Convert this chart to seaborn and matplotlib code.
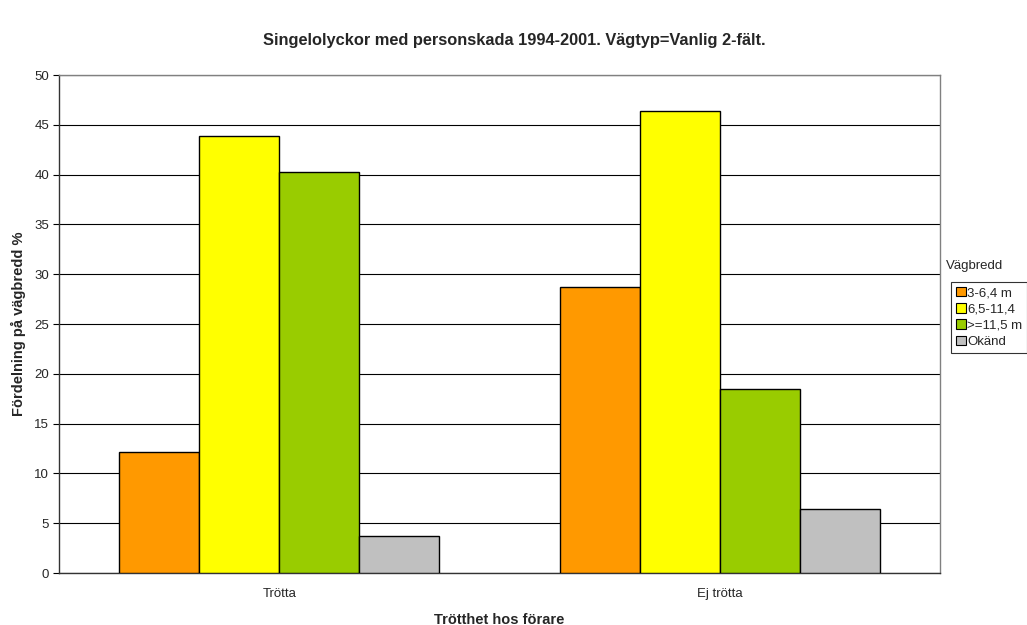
import matplotlib
matplotlib.use("Agg")
import matplotlib.pyplot as plt
import seaborn as sns
import pandas as pd
from matplotlib.patches import Patch

# Data: share of single-vehicle injury accidents per road width (%)
categories = ["Trötta", "Ej trötta"]
road_widths = ["3-6,4 m", "6,5-11,4", ">=11,5 m", "Okänd"]
values_trotta = [12.1, 43.9, 40.3, 3.7]
values_ej_trotta = [28.7, 46.4, 18.5, 6.4]
colors = ["#FF9900", "#FFFF00", "#99CC00", "#C0C0C0"]
yticks = [0, 5, 10, 15, 20, 25, 30, 35, 40, 45, 50]

rows = []
for cat, vals in zip(categories, [values_trotta, values_ej_trotta]):
    for w, v in zip(road_widths, vals):
        rows.append({"Trötthet": cat, "Vägbredd": w, "Andel": v})
df = pd.DataFrame(rows)

sns.set_theme(style="white")
plt.rcParams["font.family"] = ["Liberation Sans", "DejaVu Sans"]

fig = plt.figure(figsize=(10.27, 6.25), dpi=100)
ax = fig.add_axes([59 / 1027, 52 / 625, 881 / 1027, 498 / 625])

sns.barplot(data=df, x="Trötthet", y="Andel", hue="Vägbredd",
            order=categories, hue_order=road_widths,
            palette=colors, saturation=1, width=0.727,
            edgecolor="black", linewidth=1.0,
            legend=False, ax=ax, zorder=3)

ax.set_ylim(0, 50)
ax.set_xlim(-0.5, 1.5)
ax.set_yticks(yticks)
ax.set_yticklabels([str(t) for t in yticks], fontsize=9.5)
ax.yaxis.grid(True, color="black", linewidth=0.8, zorder=0)
ax.set_axisbelow(True)

# Category separator ticks on the x axis
ax.set_xticks([-0.5, 0.5, 1.5], minor=True)
ax.set_xticks([0, 1])
ax.set_xticklabels(categories, fontsize=9.5)
ax.tick_params(axis="x", which="major", length=0, pad=11)
ax.tick_params(axis="x", which="minor", length=4, width=0.8, color="black", direction="out")
ax.tick_params(axis="y", which="major", length=4, width=0.8, color="black",
               direction="out", left=True, pad=3)

for side in ["left", "bottom"]:
    ax.spines[side].set_color("#333333")
    ax.spines[side].set_linewidth(1.0)
for side in ["top", "right"]:
    ax.spines[side].set_color("#808080")
    ax.spines[side].set_linewidth(1.0)

ax.set_xlabel("Trötthet hos förare", fontsize=10.5, fontweight="bold", labelpad=9)
ax.set_ylabel("Fördelning på vägbredd %", fontsize=10.5, fontweight="bold", labelpad=6)

fig.text(514 / 1027, 1 - 41 / 625,
         "Singelolyckor med personskada 1994-2001. Vägtyp=Vanlig 2-fält.",
         ha="center", va="center", fontsize=11.75, fontweight="bold")

# Legend with its title placed above the frame
handles = [Patch(facecolor=c, edgecolor="black", linewidth=0.8) for c in colors]
leg = fig.legend(handles, road_widths, loc="upper left",
                 bbox_to_anchor=(951 / 1027, 1 - 282 / 625),
                 fontsize=9.5, frameon=True, fancybox=False, borderpad=0.35,
                 handlelength=0.75, handleheight=0.75, handletextpad=0.15,
                 labelspacing=0.3, borderaxespad=0)
leg.get_frame().set_edgecolor("black")
leg.get_frame().set_linewidth(0.8)
fig.text(946 / 1027, 1 - 266 / 625, "Vägbredd", ha="left", va="center", fontsize=9.5)

fig.savefig("out.png", dpi=100)
